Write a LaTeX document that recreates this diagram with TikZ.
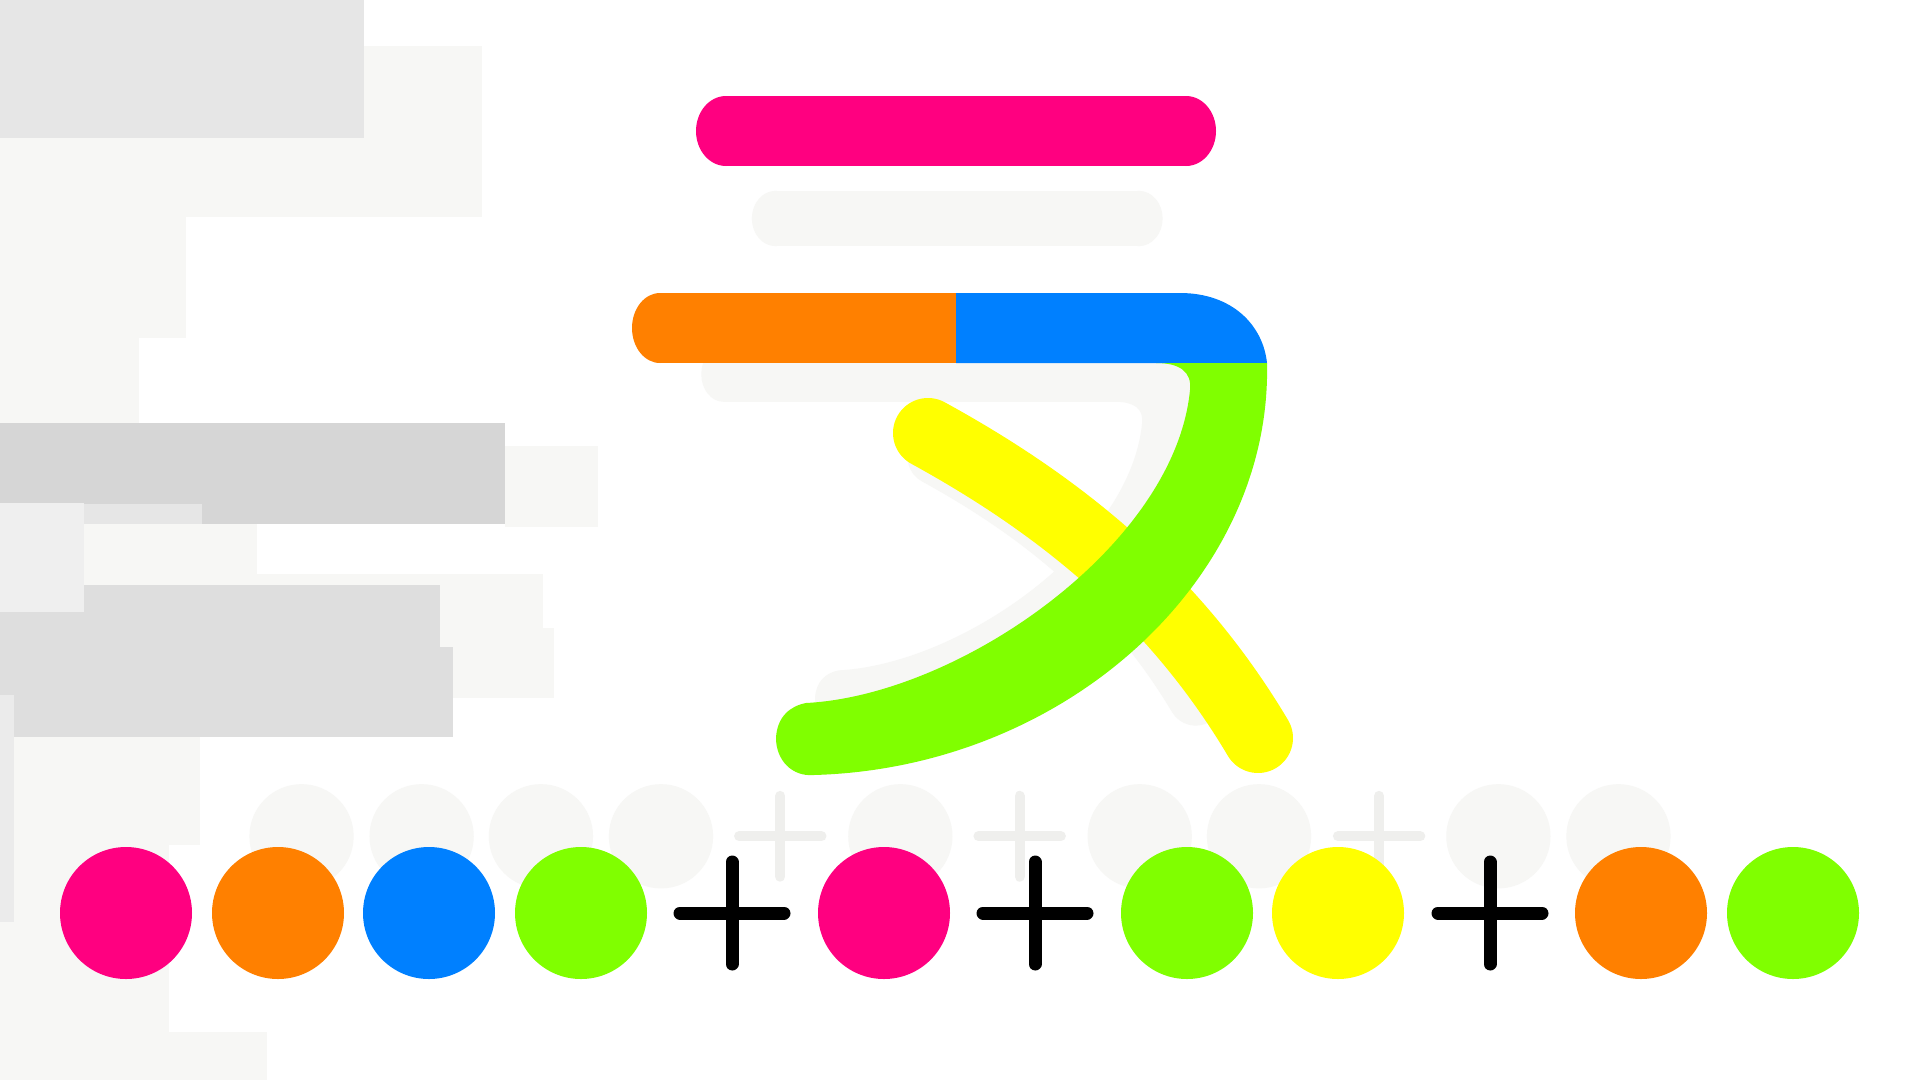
\documentclass[tikz,border=0pt]{standalone}
\definecolor{pinkc}{HTML}{FF0080}
\definecolor{orangec}{HTML}{FF8000}
\definecolor{bluec}{HTML}{0080FF}
\definecolor{greenc}{HTML}{80FF00}
\definecolor{yellowc}{HTML}{FFFF00}
\definecolor{ghostc}{HTML}{F7F7F5}
\definecolor{ghostk}{HTML}{EFEFED}
\definecolor{gA}{HTML}{E6E6E6}
\definecolor{gB}{HTML}{D6D6D6}
\definecolor{gC}{HTML}{EFEFEF}
\definecolor{gD}{HTML}{DEDEDE}
\definecolor{gE}{HTML}{EBEBEB}
\tikzset{
  strokeline/.style={line cap=round, line join=round},
}
\newcommand\wf{1}
\newcommand\scene{%
  % pink bar
  \fill[cP] (726,96) rectangle (1186,166);
  \fill[cP] (726,131) ellipse[x radius=30, y radius=35];
  \fill[cP] (1186,131) ellipse[x radius=30, y radius=35];
  % orange + blue bar
  \fill[cO] (660,293) rectangle (960,363);
  \fill[cO] (660,328) ellipse[x radius=28, y radius=35];
  \fill[cB] (956,293) -- (1180,293) .. controls (1232,293) and (1263,325) .. (1267,363) -- (956,363) -- cycle;
  % yellow stroke
  \draw[strokeline, line width=\wf*70pt, cY] (928,433) .. controls (1050,500) and (1170,590) .. (1258,738);
  % green hook
  \fill[cG] (1156,363) -- (1267,363)
     .. controls (1272,580) and (1065,768) .. (814,775)
     .. controls (792,777) and (776,760) .. (776,738)
     .. controls (777,717) and (790,706) .. (806,703)
     .. controls (960,695) and (1175,545) .. (1190,390)
     .. controls (1192,372) and (1180,363) .. (1156,363) -- cycle;
  % circles and plus signs
  \fill[cP] (126,913) circle[radius=66];
  \fill[cO] (278,913) circle[radius=66];
  \fill[cB] (429,913) circle[radius=66];
  \fill[cG] (581,913) circle[radius=66];
  \draw[strokeline, line width=\wf*13pt, cK] (732,862) -- (732,964) (680,913) -- (784,913);
  \fill[cP] (884,913) circle[radius=66];
  \draw[strokeline, line width=\wf*13pt, cK] (1035,862) -- (1035,964) (983,913) -- (1087,913);
  \fill[cG] (1187,913) circle[radius=66];
  \fill[cY] (1338,913) circle[radius=66];
  \draw[strokeline, line width=\wf*13pt, cK] (1490,862) -- (1490,964) (1438,913) -- (1542,913);
  \fill[cO] (1641,913) circle[radius=66];
  \fill[cG] (1793,913) circle[radius=66];
}
\begin{document}
\begin{tikzpicture}[x=1pt, y=-1pt]
  \useasboundingbox (0,0) rectangle (1920,1080);
  \fill[white] (0,0) rectangle (1920,1080);
  % background panels
  \fill[ghostc] (0,46) rectangle (482,217);
  \fill[ghostc] (0,217) rectangle (186,338);
  \fill[ghostc] (0,338) rectangle (139,423);
  \fill[gA] (0,0) rectangle (364,138);
  \fill[ghostc] (505,446) rectangle (598,527);
  \fill[gB] (0,423) rectangle (505,524);
  \fill[gC] (0,503) rectangle (84,612);
  \fill[gA] (84,504) rectangle (202,524);
  \fill[ghostc] (84,524) rectangle (257,585);
  \fill[ghostc] (257,574) rectangle (543,628);
  \fill[ghostc] (0,628) rectangle (554,698);
  \fill[gD] (84,585) rectangle (440,647);
  \fill[gD] (0,612) rectangle (84,647);
  \fill[gD] (0,647) rectangle (453,737);
  \fill[gE] (0,695) rectangle (14,922);
  \fill[ghostc] (14,737) rectangle (200,845);
  \fill[ghostc] (14,845) rectangle (169,922);
  \fill[ghostc] (0,922) rectangle (169,1032);
  \fill[ghostc] (0,1032) rectangle (267,1080);
  % ghost copy of the scene
  \begin{scope}[shift={(202,115)}, scale=0.79]
    \renewcommand\wf{0.79}
    \colorlet{cP}{ghostc}\colorlet{cO}{ghostc}\colorlet{cB}{ghostc}
    \colorlet{cG}{ghostc}\colorlet{cY}{ghostc}\colorlet{cK}{ghostk}
    \scene
  \end{scope}
  % main scene
  \begin{scope}
    \colorlet{cP}{pinkc}\colorlet{cO}{orangec}\colorlet{cB}{bluec}
    \colorlet{cG}{greenc}\colorlet{cY}{yellowc}\colorlet{cK}{black}
    \scene
  \end{scope}
\end{tikzpicture}
\end{document}
